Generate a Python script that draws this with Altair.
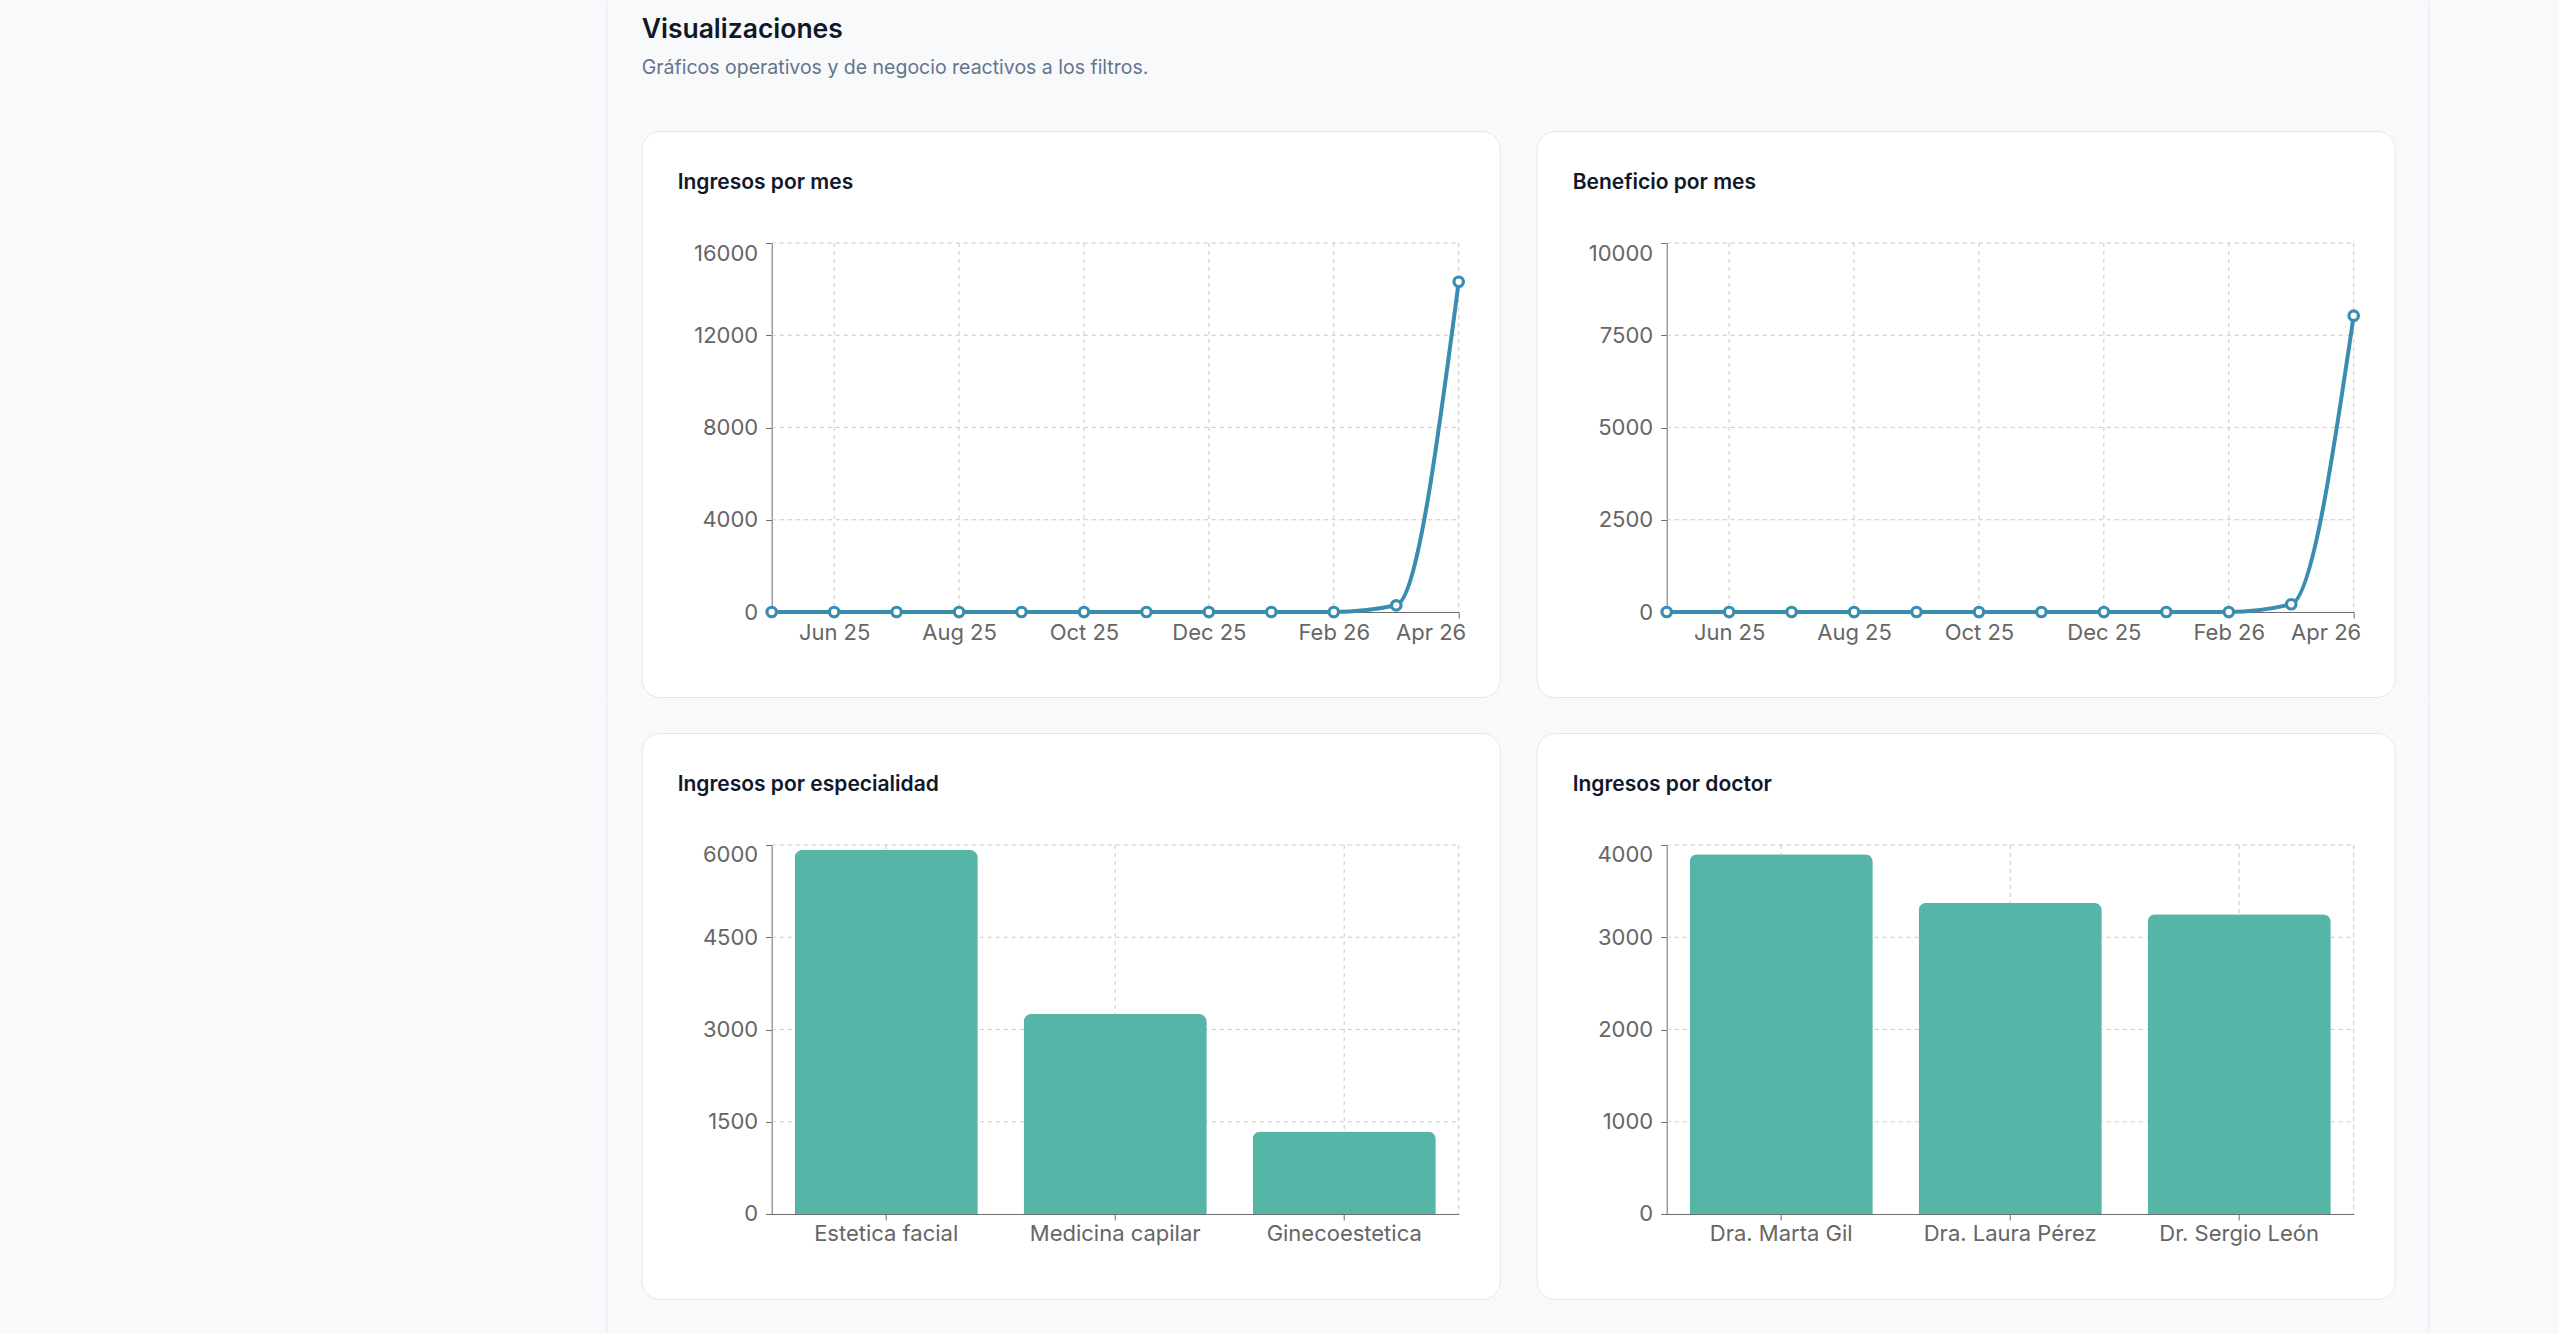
import altair as alt
import pandas as pd

FONT = "Inter"

# ---------------- data ----------------
meses = ["May 25", "Jun 25", "Jul 25", "Aug 25", "Sep 25", "Oct 25",
         "Nov 25", "Dec 25", "Jan 26", "Feb 26", "Mar 26", "Apr 26"]
meses_etiqueta = ["Jun 25", "Aug 25", "Oct 25", "Dec 25", "Feb 26", "Apr 26"]
ingresos_mes = [0, 0, 0, 0, 0, 0, 0, 0, 0, 0, 290, 14320]
beneficio_mes = [0, 0, 0, 0, 0, 0, 0, 0, 0, 0, 210, 8030]
ticks_ingresos = [0, 4000, 8000, 12000, 16000]
ticks_beneficio = [0, 2500, 5000, 7500, 10000]

especialidades = ["Estetica facial", "Medicina capilar", "Ginecoestetica"]
ingresos_especialidad = [5920, 3250, 1340]
ticks_especialidad = [0, 1500, 3000, 4500, 6000]

doctores = ["Dra. Marta Gil", "Dra. Laura Pérez", "Dr. Sergio León"]
ingresos_doctor = [3900, 3375, 3250]
ticks_doctor = [0, 1000, 2000, 3000, 4000]

titulos = ["Ingresos por mes", "Beneficio por mes",
           "Ingresos por especialidad", "Ingresos por doctor"]
encabezado = ["Visualizaciones"]
subtitulo = ["Gráficos operativos y de negocio reactivos a los filtros."]

# ---------------- style ----------------
CARD_W, CARD_H = 858, 566
PX0, PX1 = 130, 817
PY0, PY1 = 112, 481

LINE_COLOR = "#3a8db1"
BAR_COLOR = "#55b5a7"
GRID_COLOR = "#c8c8c8"
AXIS_COLOR = "#6b6b6b"
LABEL_COLOR = "#666666"
STRIPE_COLOR = "#e7e9ee"
GRID_DASH = [4, 4]


def y_axis(ticks):
    top = ticks[-1]
    return alt.Axis(
        values=ticks, title=None, format="d", offset=-PX0, grid=False,
        tickSize=6, labelPadding=8,
        labelBaseline={"condition": {"test": f"datum.value == {top}", "value": "top"},
                       "value": "middle"},
    )


def card_title(text):
    return alt.Chart(pd.DataFrame({"t": [text]})).mark_text(
        align="left", baseline="alphabetic", font=FONT, fontSize=21,
        fontWeight=600, color="#0f172a"
    ).encode(x=alt.value(36), y=alt.value(58), text="t:N")


def stripe(x, y, y2):
    return alt.Chart(pd.DataFrame({"k": [0]})).mark_rule(
        color=STRIPE_COLOR, strokeWidth=1
    ).encode(x=alt.value(x), y=alt.value(y), y2=alt.value(y2))


def line_card(values, ticks, title, extra=()):
    df = pd.DataFrame({"mes": meses, "valor": values})
    xs = alt.Scale(type="point", domain=meses, range=[PX0, PX1], padding=0)
    ys = alt.Scale(domain=[ticks[0], ticks[-1]], range=[PY1, PY0], nice=False)
    xa = alt.Axis(values=meses_etiqueta, title=None, offset=-(CARD_H - PY1),
                  labelAngle=0, grid=False, tickSize=6, labelPadding=4,
                  labelFlush=True, labelFlushOffset=7)
    ya = y_axis(ticks)
    x = alt.X("mes:O", scale=xs, axis=xa)
    y = alt.Y("valor:Q", scale=ys, axis=ya)

    gx = alt.Chart(pd.DataFrame({"mes": meses_etiqueta})).mark_rule(
        color=GRID_COLOR, strokeDash=GRID_DASH, strokeWidth=1
    ).encode(x=x, y=alt.value(PY0), y2=alt.value(PY1))
    gy = alt.Chart(pd.DataFrame({"valor": ticks[1:]})).mark_rule(
        color=GRID_COLOR, strokeDash=GRID_DASH, strokeWidth=1
    ).encode(y=y, x=alt.value(PX0), x2=alt.value(PX1))
    line = alt.Chart(df).mark_line(
        interpolate="monotone", color=LINE_COLOR, strokeWidth=4
    ).encode(x=x, y=y)
    pts = alt.Chart(df).mark_point(
        shape="circle", filled=True, fill="white", stroke=LINE_COLOR,
        strokeWidth=3.2, size=90, opacity=1
    ).encode(x=x, y=y)
    return alt.layer(gx, gy, line, pts, card_title(title), *extra).properties(
        width=CARD_W, height=CARD_H)


def bar_card(cats, values, ticks, title, extra=()):
    df = pd.DataFrame({"cat": cats, "valor": values})
    xs = alt.Scale(type="band", domain=cats, range=[PX0, PX1],
                   paddingInner=0.2, paddingOuter=0.1)
    ys = alt.Scale(domain=[ticks[0], ticks[-1]], range=[PY1, PY0], nice=False)
    xa = alt.Axis(title=None, offset=-(CARD_H - PY1), labelAngle=0, grid=False,
                  tickSize=6, labelPadding=4)
    ya = y_axis(ticks)
    x = alt.X("cat:N", scale=xs, axis=xa, sort=None)
    y = alt.Y("valor:Q", scale=ys, axis=ya)

    gx = alt.Chart(pd.DataFrame({"cat": cats})).mark_rule(
        color=GRID_COLOR, strokeDash=GRID_DASH, strokeWidth=1
    ).encode(x=alt.X("cat:N", scale=xs, axis=xa, sort=None, bandPosition=0.5),
             y=alt.value(PY0), y2=alt.value(PY1))
    gy = alt.Chart(pd.DataFrame({"valor": ticks[1:]})).mark_rule(
        color=GRID_COLOR, strokeDash=GRID_DASH, strokeWidth=1
    ).encode(y=y, x=alt.value(PX0), x2=alt.value(PX1))
    edge = alt.Chart(pd.DataFrame({"k": [0]})).mark_rule(
        color=GRID_COLOR, strokeDash=GRID_DASH, strokeWidth=1
    ).encode(x=alt.value(PX1), y=alt.value(PY0), y2=alt.value(PY1))
    bars = alt.Chart(df).mark_bar(
        color=BAR_COLOR, cornerRadiusTopLeft=8, cornerRadiusTopRight=8
    ).encode(x=x, y=y)
    return alt.layer(gx, gy, edge, bars, card_title(title), *extra).properties(
        width=CARD_W, height=CARD_H)


heading = alt.Chart(pd.DataFrame({"t": encabezado})).mark_text(
    align="left", baseline="alphabetic", font=FONT, fontSize=26.5,
    fontWeight=600, color="#111827"
).encode(x=alt.value(0), y=alt.value(-93), text="t:N")
sub = alt.Chart(pd.DataFrame({"t": subtitulo})).mark_text(
    align="left", baseline="alphabetic", font=FONT, fontSize=19.5,
    fontWeight=400, color="#64748b"
).encode(x=alt.value(0), y=alt.value(-57), text="t:N")

c1 = line_card(ingresos_mes, ticks_ingresos, titulos[0],
               extra=(heading, sub, stripe(-35, -129.5, 566)))
c2 = line_card(beneficio_mes, ticks_beneficio, titulos[1],
               extra=(stripe(892, -129.5, 566),))
c3 = bar_card(especialidades, ingresos_especialidad, ticks_especialidad, titulos[2],
              extra=(stripe(-35, -34, 600),))
c4 = bar_card(doctores, ingresos_doctor, ticks_doctor, titulos[3],
              extra=(stripe(892, -34, 600),))

chart = alt.concat(
    c1, c2, c3, c4, columns=2,
    spacing={"row": 0, "column": 35}, align="each", bounds="full"
).properties(
    padding={"left": 605.7, "top": 0, "right": 129, "bottom": 0}
).configure(
    background="#f8f9fb", font=FONT
).configure_view(
    fill="white", stroke="#e3e6ec", strokeWidth=1, cornerRadius=18
).configure_axis(
    labelFont=FONT, labelFontSize=22, labelColor=LABEL_COLOR,
    domainColor=AXIS_COLOR, tickColor=AXIS_COLOR, domainWidth=1, tickWidth=1
)

chart.save("out.html", embed_options={"renderer": "svg", "actions": False})
